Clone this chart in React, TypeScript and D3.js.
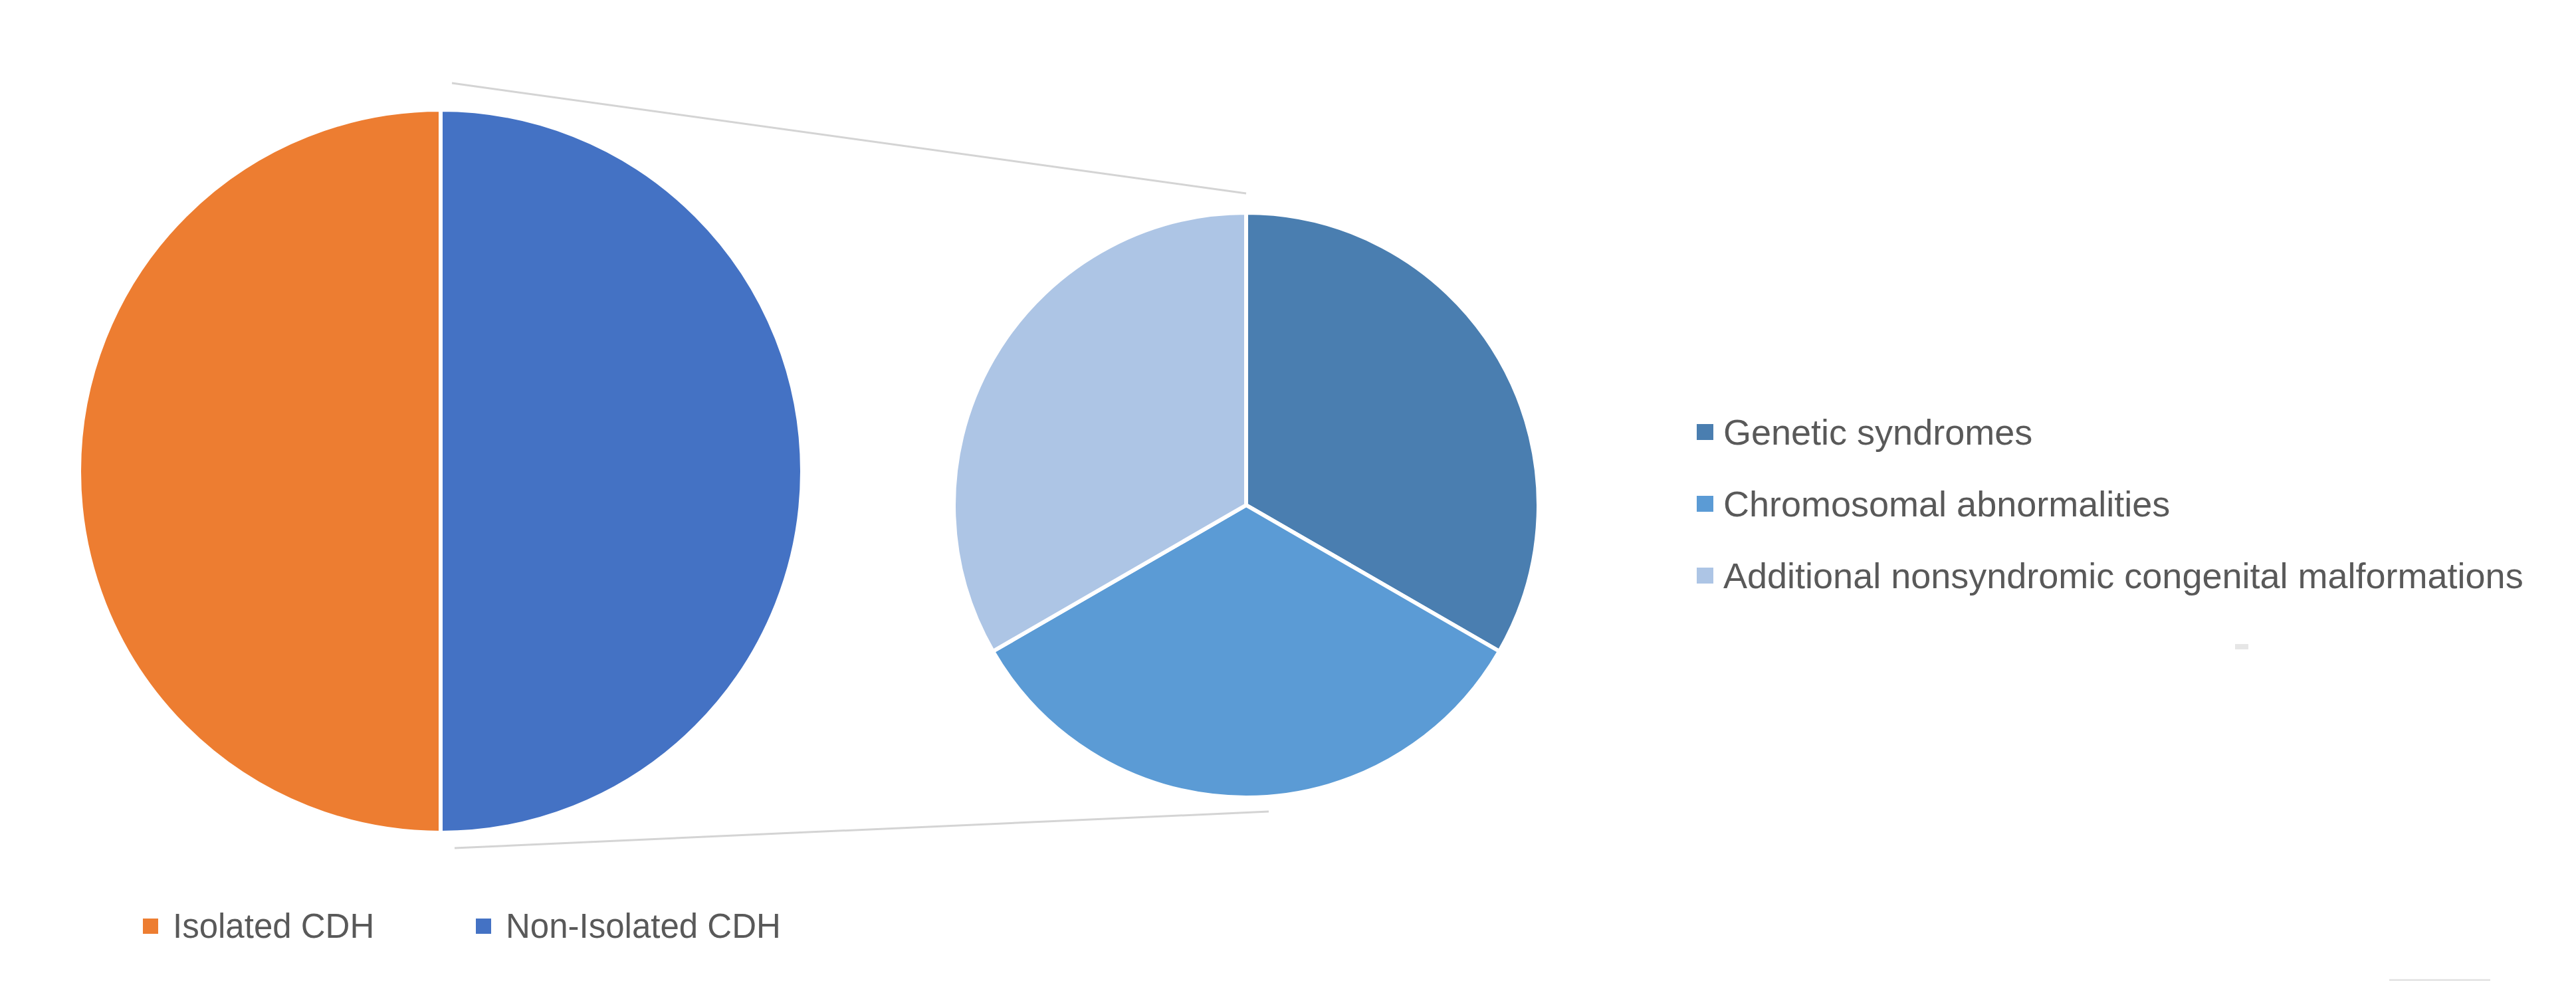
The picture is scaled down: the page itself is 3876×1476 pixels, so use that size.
import React from "react";
import * as d3 from "d3";

// ---- Data ----
const mainCategories = ["Isolated CDH", "Non-Isolated CDH"];
const mainValues = [50, 50];
const mainColors = ["#ED7D31", "#4472C4"];

const subCategories = [
  "Genetic syndromes",
  "Chromosomal abnormalities",
  "Additional nonsyndromic congenital malformations",
];
const subValues = [1, 1, 1];
const subColors = ["#4A7EB0", "#5B9BD5", "#ADC5E5"];

// ---- Layout ----
const W = 3876;
const H = 1476;
const big = { cx: 663, cy: 709, r: 544 };
const small = { cx: 1875, cy: 760, r: 440 };
const FONT = "'Liberation Sans', Arial, sans-serif";
const TEXT = "#595959";

export default function App() {
  const bigPie = d3
    .pie<number>()
    .sort(null)
    .startAngle(Math.PI)
    .endAngle(3 * Math.PI)(mainValues);
  const smallPie = d3.pie<number>().sort(null)(subValues);

  const bigArc = d3.arc<d3.PieArcDatum<number>>().innerRadius(0).outerRadius(big.r);
  const smallArc = d3.arc<d3.PieArcDatum<number>>().innerRadius(0).outerRadius(small.r);

  // connector lines (series lines) between the two pies
  const connectors = [
    {
      x1: big.cx + 17,
      y1: big.cy - big.r - 40,
      x2: small.cx,
      y2: small.cy - small.r - 29,
    },
    {
      x1: big.cx + 21,
      y1: big.cy + big.r + 23,
      x2: small.cx + 34,
      y2: small.cy + small.r + 21,
    },
  ];

  const rightLegendY = d3.scaleLinear().domain([0, 2]).range([650, 866]);
  const bottomLegendX = d3
    .scaleOrdinal<string, number>()
    .domain(mainCategories)
    .range([215, 716]);

  return (
    <svg
      width={W}
      height={H}
      viewBox={`0 0 ${W} ${H}`}
      style={{ position: "absolute", left: 0, top: 0, background: "#fff" }}
    >
      <rect width={W} height={H} fill="#fff" />

      {connectors.map((c, i) => (
        <line
          key={i}
          x1={c.x1}
          y1={c.y1}
          x2={c.x2}
          y2={c.y2}
          stroke="#D4D4D4"
          strokeWidth={3}
        />
      ))}

      <g transform={`translate(${big.cx},${big.cy})`}>
        {bigPie.map((d, i) => (
          <path
            key={i}
            d={bigArc(d) as string}
            fill={mainColors[i]}
            stroke="#fff"
            strokeWidth={6}
            strokeLinejoin="round"
          />
        ))}
      </g>

      <g transform={`translate(${small.cx},${small.cy})`}>
        {smallPie.map((d, i) => (
          <path
            key={i}
            d={smallArc(d) as string}
            fill={subColors[i]}
            stroke="#fff"
            strokeWidth={6}
            strokeLinejoin="round"
          />
        ))}
      </g>

      {/* right legend */}
      {subCategories.map((name, i) => {
        const y = rightLegendY(i);
        return (
          <g key={name}>
            <rect x={2553} y={y - 12} width={25} height={24} fill={subColors[i]} />
            <text
              x={2593}
              y={y}
              dy="0.36em"
              fontFamily={FONT}
              fontSize={54}
              fill={TEXT}
            >
              {name}
            </text>
          </g>
        );
      })}

      {/* bottom legend */}
      {mainCategories.map((name, i) => {
        const x = bottomLegendX(name);
        const y = 1393;
        return (
          <g key={name}>
            <rect x={x} y={y - 11} width={23} height={23} fill={mainColors[i]} />
            <text
              x={x + 45}
              y={y}
              dy="0.36em"
              fontFamily={FONT}
              fontSize={51}
              fill={TEXT}
            >
              {name}
            </text>
          </g>
        );
      })}

      {/* faint artifacts */}
      <rect x={3363} y={969} width={20} height={8} fill="#E6E6E6" />
      <rect x={3595} y={1473} width={152} height={3} fill="#E6E6E6" />
    </svg>
  );
}
